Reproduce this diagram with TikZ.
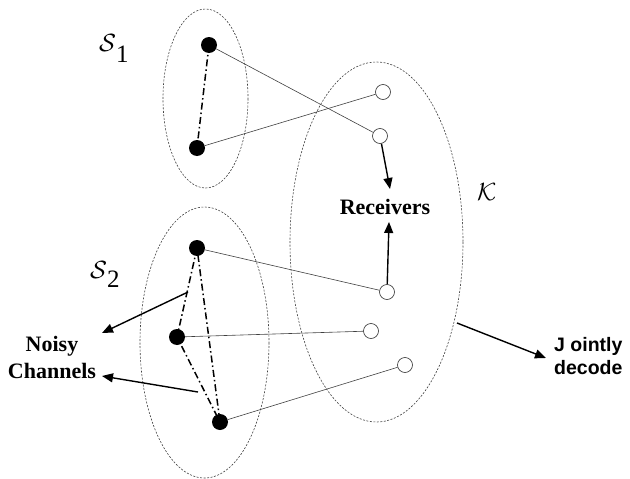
\documentclass[tikz,border=0pt]{standalone}
\usepackage{fontspec}
\setmainfont{Liberation Serif}
\newfontfamily\sansfam{Liberation Sans}
\usetikzlibrary{arrows.meta}
\begin{document}
\begin{tikzpicture}[x=1pt,y=-1pt,
  setring/.style={draw=black!75,dash pattern=on 2pt off 1.5pt,line width=0.6pt},
  src/.style={circle,fill=black,inner sep=0pt,minimum size=16pt},
  rcv/.style={circle,draw=black!80,fill=white,line width=0.6pt,inner sep=0pt,minimum size=15pt},
  link/.style={draw=black!75,line width=0.6pt},
  noisy/.style={draw=black,line width=1.5pt,dash pattern=on 7pt off 3pt on 1.5pt off 3pt},
  pointer/.style={draw=black,line width=1.4pt,-{Triangle[length=11pt,width=9pt]}},
  lbl/.style={inner sep=0pt,font=\bfseries\fontsize{22}{27}\selectfont,align=center}]
\useasboundingbox (0,0) rectangle (630,479);
% set ellipses
\draw[setring] (205.5,98.5) ellipse [x radius=42.5, y radius=89.5];
\draw[setring] (204.5,342.5) ellipse [x radius=64.5, y radius=135.5];
\draw[setring] (376.5,242) ellipse [x radius=86.5, y radius=180];
\coordinate (kedge) at (457,323);
% sources
\node[src] (a1) at (209,45) {};
\node[src] (a2) at (197,148) {};
\node[src] (b1) at (197,248) {};
\node[src] (b2) at (177,337) {};
\node[src] (b3) at (220,422) {};
% receivers
\node[rcv] (r1) at (383,92) {};
\node[rcv] (r2) at (380,136) {};
\node[rcv] (r3) at (387,292) {};
\node[rcv] (r4) at (371,331) {};
\node[rcv] (r5) at (405,365) {};
% links
\draw[link] (a1) -- (r2);
\draw[link] (a2) -- (r1);
\draw[link] (b1) -- (r3);
\draw[link] (b2) -- (r4);
\draw[link] (b3) -- (r5);
% noisy channels
\draw[noisy] (a1.center) -- (a2.center);
\draw[noisy] (b1.center) -- (b2.center) -- (b3.center) -- cycle;
% labels
\node[inner sep=0pt,anchor=base west] (s1) at (99,52) {\fontsize{37}{37}\selectfont$\mathcal{S}$\raisebox{-10pt}{\fontsize{25}{25}\selectfont 1}};
\node[inner sep=0pt,anchor=base west] (s2) at (90,278) {\fontsize{34}{34}\selectfont$\mathcal{S}$\raisebox{-9pt}{\fontsize{25}{25}\selectfont 2}};
\node[inner sep=0pt,anchor=base west] (kl) at (477,200) {\fontsize{35}{35}\selectfont$\mathcal{K}$};
\node[lbl] (recv) at (385,207) {Receivers};
\node[lbl] (nc) at (52,357) {Noisy\\Channels};
\node[inner sep=0pt,align=left,anchor=north west,font=\sansfam\bfseries\fontsize{19.5}{23}\selectfont] (jd) at (554,337) {J ointly\\decode};
% pointers
\coordinate (n1) at (188,292);
\coordinate (n2) at (198,392);
\draw[pointer] (r2) -- (390,189);
\draw[pointer] (r3) -- (389,222);
\draw[pointer] (n1) -- (102,333);
\draw[pointer] (n2) -- (102,376);
\draw[pointer] (kedge) -- (546,358);
\end{tikzpicture}
\end{document}
